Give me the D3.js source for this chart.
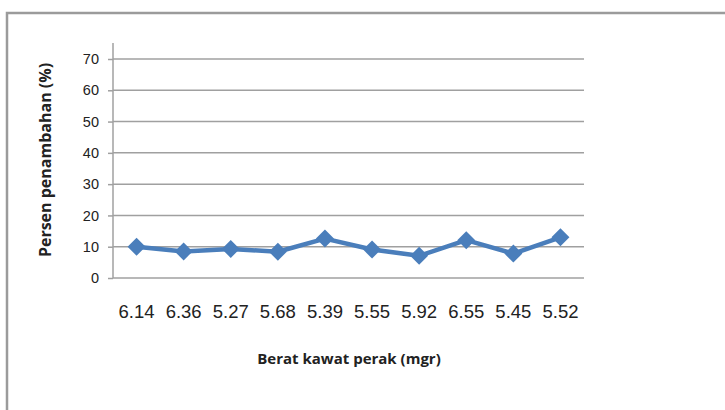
<!DOCTYPE html>
<html>
<head>
<meta charset="utf-8">
<script src="https://cdn.jsdelivr.net/npm/d3@7"></script>
<style>
  html, body { margin: 0; padding: 0; background: #fff; }
  svg { display: block; font-family: "Open Sans", "Liberation Sans", sans-serif; }
</style>
</head>
<body>
<svg id="chart" width="725" height="410"></svg>
<script>
// Silver wire weight (mgr) per sample and the percentage increase measured
const categories = ["6.14", "6.36", "5.27", "5.68", "5.39", "5.55", "5.92", "6.55", "5.45", "5.52"];
const values = [10.0, 8.5, 9.3, 8.4, 12.6, 9.1, 7.1, 12.1, 7.8, 13.0];
const yTicks = [0, 10, 20, 30, 40, 50, 60, 70];

const svg = d3.select("#chart");
const W = 725, H = 410;
const plot = { left: 113, right: 584, top: 59, bottom: 278 };
const axisColor = "#a0a0a0";
const lineColor = "#4a7ebb";

// Outer chart frame (top and left edges)
svg.append("path")
  .attr("d", `M7,${H} L7,13 L${W},13`)
  .attr("fill", "none")
  .attr("stroke", "#9b9b9b")
  .attr("stroke-width", 2.5);

const x = d3.scaleBand().domain(categories).range([plot.left, plot.right]);
const y = d3.scaleLinear().domain([0, 70]).range([plot.bottom, plot.top]);

// Horizontal gridlines with short ticks left of the axis
const yAxis = d3.axisLeft(y).tickValues(yTicks).tickSize(5).tickPadding(9);
const gy = svg.append("g").attr("transform", `translate(${plot.left},0)`).call(yAxis);
gy.select(".domain").remove();
gy.selectAll(".tick line").attr("stroke", axisColor).attr("stroke-width", 1.5);
gy.selectAll(".tick text").attr("fill", "#222").style("font-size", "14.5px");

svg.append("g").selectAll("line.grid")
  .data(yTicks.filter(d => d > 0))
  .join("line")
  .attr("x1", plot.left).attr("x2", plot.right)
  .attr("y1", d => y(d)).attr("y2", d => y(d))
  .attr("stroke", axisColor).attr("stroke-width", 1.5);

// Vertical axis line
svg.append("line")
  .attr("x1", plot.left).attr("x2", plot.left)
  .attr("y1", plot.top - 16).attr("y2", plot.bottom)
  .attr("stroke", axisColor).attr("stroke-width", 1.5);

// Category axis along the zero line
const xAxis = d3.axisBottom(x).tickSize(0).tickPadding(27);
const gx = svg.append("g").attr("transform", `translate(0,${plot.bottom})`).call(xAxis);
gx.select(".domain").attr("d", `M${plot.left},0H${plot.right}`).attr("stroke", axisColor).attr("stroke-width", 1.5);
gx.selectAll(".tick text").attr("fill", "#222").style("font-size", "18.5px");

// Data line and diamond markers
const pts = categories.map((c, i) => [x(c) + x.bandwidth() / 2, y(values[i])]);
svg.append("path")
  .attr("d", d3.line()(pts))
  .attr("fill", "none")
  .attr("stroke", lineColor)
  .attr("stroke-width", 4.5)
  .attr("stroke-linejoin", "round");

svg.append("g").selectAll("path.marker")
  .data(pts)
  .join("path")
  .attr("transform", d => `translate(${d[0]},${d[1]})`)
  .attr("d", "M0,-9 L9,0 L0,9 L-9,0 Z")
  .attr("fill", lineColor);

// Axis titles
svg.append("text")
  .attr("x", 349)
  .attr("y", 364)
  .attr("text-anchor", "middle")
  .attr("fill", "#222")
  .style("font-size", "15px")
  .style("font-weight", "bold")
  .text("Berat kawat perak (mgr)");

svg.append("text")
  .attr("transform", `translate(51,160) rotate(-90)`)
  .attr("text-anchor", "middle")
  .attr("fill", "#222")
  .style("font-size", "16px")
  .style("font-weight", "bold")
  .text("Persen penambahan (%)");
</script>
</body>
</html>
